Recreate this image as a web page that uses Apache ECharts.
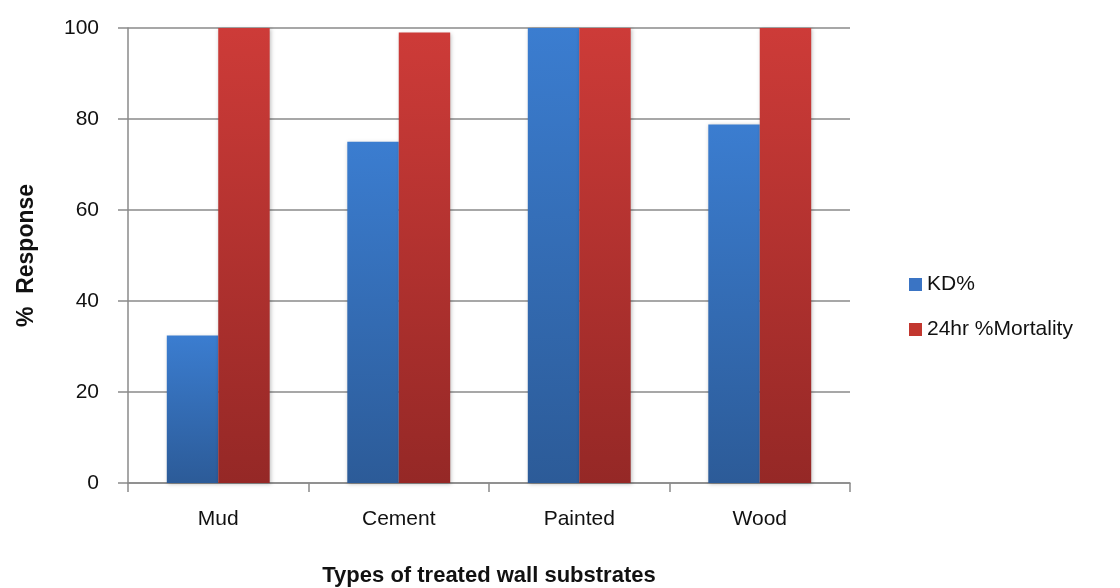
<!DOCTYPE html>
<html><head><meta charset="utf-8">
<script src="https://cdn.jsdelivr.net/npm/echarts@6/dist/echarts.min.js"></script>
<style>html,body{margin:0;padding:0;background:#fff}#c{width:1120px;height:588px}</style>
</head><body><div id="c"></div>
<script>
const categories = ['Mud', 'Cement', 'Painted', 'Wood'];
const kd = [32.4, 75, 100, 78.8];
const mortality = [100, 99, 100, 100];
const seriesNames = ['KD%', '24hr %Mortality'];

const grad = (top, bottom) => new echarts.graphic.LinearGradient(0, 0, 0, 1, [
  {offset: 0, color: top}, {offset: 1, color: bottom}
]);
const font = 'Liberation Sans, Arial, sans-serif';
const chart = echarts.init(document.getElementById('c'));
chart.setOption({
  animation: false,
  grid: {left: 128, right: 270, top: 28, bottom: 105, containLabel: false, outerBoundsMode: 'none'},
  legend: {
    orient: 'vertical', left: 904, top: 269, itemWidth: 13, itemHeight: 13, itemGap: 24, icon: 'rect',
    textStyle: {fontFamily: font, fontSize: 21, color: '#111'},
    data: [{name: seriesNames[0], itemStyle: {color: '#3a74c4'}}, {name: seriesNames[1], itemStyle: {color: '#c2372f'}}]
  },
  xAxis: {
    type: 'category', data: categories,
    name: 'Types of treated wall substrates', nameLocation: 'middle', nameGap: 82,
    nameTextStyle: {fontFamily: font, fontSize: 22, fontWeight: 'bold', color: '#111'},
    axisLine: {lineStyle: {color: '#8a8a8a', width: 1.5}},
    axisTick: {show: true, length: 9, lineStyle: {color: '#8a8a8a', width: 1.5}},
    axisLabel: {fontFamily: font, fontSize: 21, color: '#111', margin: 26}
  },
  yAxis: {
    type: 'value', min: 0, max: 100, interval: 20,
    name: '%  Response', nameLocation: 'middle', nameGap: 90, nameRotate: 90,
    nameTextStyle: {fontFamily: font, fontSize: 23, fontWeight: 'bold', color: '#111'},
    axisLine: {show: true, lineStyle: {color: '#8a8a8a', width: 1.5}},
    axisTick: {show: true, length: 10, lineStyle: {color: '#8a8a8a', width: 1.5}},
    splitLine: {lineStyle: {color: '#8a8a8a', width: 1.5}},
    axisLabel: {fontFamily: font, fontSize: 21, color: '#111', margin: 29}
  },
  series: [
    {name: seriesNames[0], type: 'bar', data: kd, barGap: '0%', barCategoryGap: '43%',
     itemStyle: {color: grad('#3b7dd0', '#2c5b98'), shadowColor: 'rgba(0,0,0,0.25)', shadowBlur: 4, shadowOffsetX: 1, shadowOffsetY: 1}},
    {name: seriesNames[1], type: 'bar', data: mortality,
     itemStyle: {color: grad('#cd3b38', '#952826'), shadowColor: 'rgba(0,0,0,0.25)', shadowBlur: 4, shadowOffsetX: 1, shadowOffsetY: 1}}
  ]
});
</script></body></html>
